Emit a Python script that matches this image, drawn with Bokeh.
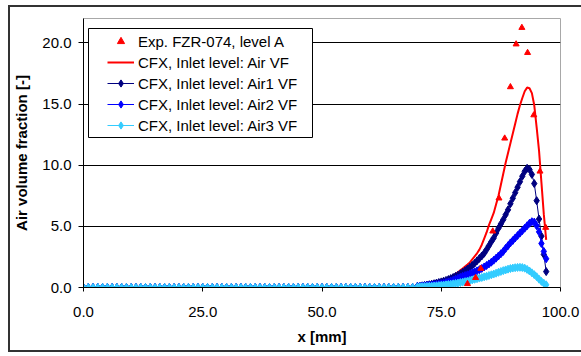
from bokeh.plotting import figure
from bokeh.models import (BoxAnnotation, ColumnDataSource, FixedTicker, InlineStyleSheet,
                          Legend, LegendItem, NumeralTickFormatter, Range1d)
from bokeh.embed import file_html
from bokeh.resources import INLINE

# Measured air volume fraction, FZR-074, level A
exp_x = [80.5, 82.2, 83.3, 85.8, 87.1, 88.3, 89.5, 90.7, 91.9, 93.1, 94.4, 95.7, 96.9]
exp_vf = [0.3, 0.8, 1.55, 4.6, 7.3, 12.2, 16.4, 19.9, 21.25, 19.2, 14.1, 9.5, 4.9]

# CFX results: flat part of the profile (x = 0..69 mm, every 1 mm)
x_flat = list(range(0, 70))
flat_vf = [0.0] * len(x_flat)

# CFX results: rising part of the profile (x = 70..97 mm, every 0.5 mm)
x_peak = [70.0, 70.5, 71.0, 71.5, 72.0, 72.5, 73.0, 73.5, 74.0, 74.5,
          75.0, 75.5, 76.0, 76.5, 77.0, 77.5, 78.0, 78.5, 79.0, 79.5,
          80.0, 80.5, 81.0, 81.5, 82.0, 82.5, 83.0, 83.5, 84.0, 84.5,
          85.0, 85.5, 86.0, 86.5, 87.0, 87.5, 88.0, 88.5, 89.0, 89.5,
          90.0, 90.5, 91.0, 91.5, 92.0, 92.5, 93.0, 93.5, 94.0, 94.5,
          95.0, 95.5, 96.0, 96.5, 97.0]

air_vf = [0.15, 0.18, 0.21, 0.25, 0.29, 0.33, 0.38, 0.43, 0.48, 0.54,
          0.60, 0.66, 0.73, 0.81, 0.90, 1.00, 1.12, 1.25, 1.40, 1.56,
          1.72, 1.88, 2.05, 2.30, 2.55, 2.80, 3.10, 3.50, 4.00, 4.50,
          5.10, 5.60, 6.10, 6.80, 7.50, 8.40, 9.30, 10.20, 11.00, 11.80,
          12.60, 13.40, 14.20, 14.90, 15.50, 16.05, 16.35, 16.30, 15.90, 14.90,
          13.10, 11.20, 8.60, 6.00, 3.90]

air1_vf = [0.10, 0.12, 0.14, 0.17, 0.20, 0.23, 0.27, 0.31, 0.36, 0.41,
           0.46, 0.52, 0.58, 0.65, 0.73, 0.82, 0.91, 1.01, 1.12, 1.24,
           1.37, 1.51, 1.65, 1.81, 1.98, 2.18, 2.38, 2.58, 2.80, 3.10,
           3.42, 3.75, 4.05, 4.45, 4.85, 5.20, 5.55, 5.95, 6.35, 6.85,
           7.30, 7.75, 8.20, 8.65, 9.10, 9.50, 9.75, 9.65, 9.25, 8.50,
           7.10, 5.60, 4.20, 2.70, 1.30]

air2_vf = [0.08, 0.10, 0.12, 0.14, 0.16, 0.18, 0.20, 0.22, 0.24, 0.27,
           0.31, 0.35, 0.40, 0.46, 0.52, 0.59, 0.67, 0.75, 0.83, 0.92,
           0.98, 1.04, 1.12, 1.20, 1.28, 1.36, 1.46, 1.56, 1.68, 1.80,
           1.93, 2.07, 2.23, 2.40, 2.58, 2.76, 2.95, 3.20, 3.42, 3.65,
           3.84, 4.05, 4.25, 4.45, 4.65, 4.85, 5.05, 5.25, 5.38, 5.35,
           5.05, 4.55, 3.60, 2.95, 2.35]

air3_vf = [0.05, 0.06, 0.07, 0.08, 0.09, 0.10, 0.11, 0.12, 0.14, 0.16,
           0.18, 0.20, 0.22, 0.25, 0.27, 0.30, 0.33, 0.36, 0.40, 0.44,
           0.48, 0.52, 0.57, 0.62, 0.67, 0.72, 0.77, 0.82, 0.87, 0.92,
           0.98, 1.04, 1.10, 1.17, 1.24, 1.31, 1.38, 1.44, 1.50, 1.55,
           1.59, 1.62, 1.64, 1.65, 1.63, 1.58, 1.48, 1.35, 1.20, 1.05,
           0.88, 0.68, 0.50, 0.35, 0.22]

x_ticks = [0, 25, 50, 75, 100]
y_ticks = [0, 5, 10, 15, 20]

FONT = "Liberation Sans"
FONT_SIZE = "15px"

x_all = x_flat + x_peak
src = ColumnDataSource(dict(
    x=x_all,
    air=flat_vf + air_vf,
    air1=flat_vf + air1_vf,
    air2=flat_vf + air2_vf,
    air3=flat_vf + air3_vf,
))
exp_src = ColumnDataSource(dict(x=exp_x, y=exp_vf))

# Outer chart frame, drawn around the whole canvas (open on the right side)
frame_css = InlineStyleSheet(css="""
:host { position: relative; }
:host::after {
  content: "";
  position: absolute;
  left: 8px; top: 5px;
  width: 573px; height: 347px;
  box-sizing: border-box;
  border: 2px solid #333333;
  border-right: none;
  pointer-events: none;
}
""")

p = figure(width=581, height=356, output_backend="svg", toolbar_location=None,
           x_range=Range1d(0, 100), y_range=Range1d(0, 22),
           min_border_left=83, min_border_right=21,
           min_border_top=18, min_border_bottom=69,
           stylesheets=[frame_css])
p.background_fill_color = "white"
p.border_fill_color = "white"
p.outline_line_color = "#a8a8a8"
p.outline_line_width = 1

# grid
p.xgrid.visible = False
p.ygrid.ticker = FixedTicker(ticks=y_ticks)
p.ygrid.grid_line_color = "#000000"
p.ygrid.grid_line_width = 1

# axes
for ax in (p.xaxis[0], p.yaxis[0]):
    ax.formatter = NumeralTickFormatter(format="0.0")
    ax.axis_line_color = "#000000"
    ax.major_tick_line_color = "#000000"
    ax.minor_tick_line_color = None
    ax.major_tick_in = 0
    ax.major_label_text_font = FONT
    ax.major_label_text_font_size = FONT_SIZE
    ax.major_label_text_color = "#000000"
    ax.axis_label_text_font = FONT
    ax.axis_label_text_font_size = FONT_SIZE
    ax.axis_label_text_font_style = "bold"
    ax.axis_label_text_color = "#000000"

p.xaxis.ticker = FixedTicker(ticks=x_ticks)
p.xaxis.major_tick_out = 4
p.xaxis.major_label_standoff = 15
p.xaxis.axis_label = "x [mm]"
p.xaxis.axis_label_standoff = 8

p.yaxis.ticker = FixedTicker(ticks=y_ticks)
p.yaxis.major_tick_out = 5
p.yaxis.major_label_standoff = 7
p.yaxis.axis_label = "Air volume fraction [-]"
p.yaxis.axis_label_standoff = 9

# Legend panel
p.add_layout(BoxAnnotation(left=88, right=312, top=28, bottom=137,
                           left_units="canvas", right_units="canvas",
                           top_units="canvas", bottom_units="canvas",
                           fill_color="white", fill_alpha=1,
                           line_color="#000000", line_alpha=1, line_width=1))

# series
r_air = p.line("x", "air", source=src, line_color="#ff0000", line_width=2)

l_air1 = p.line("x", "air1", source=src, line_color="#000080", line_width=1)
m_air1 = p.scatter("x", "air1", source=src, marker="diamond", size=8,
                   fill_color="#000080", line_color="#000080")

l_air2 = p.line("x", "air2", source=src, line_color="#0000ff", line_width=1)
m_air2 = p.scatter("x", "air2", source=src, marker="diamond", size=8,
                   fill_color="#0000ff", line_color="#0000ff")

l_air3 = p.line("x", "air3", source=src, line_color="#33ccff", line_width=1)
m_air3 = p.scatter("x", "air3", source=src, marker="diamond", size=8,
                   fill_color="#33ccff", line_color="#33ccff")

r_exp = p.scatter("x", "y", source=exp_src, marker="triangle", size=6,
                  fill_color="#ff0000", line_color="#ff0000")

legend = Legend(items=[
    LegendItem(label="Exp. FZR-074, level A", renderers=[r_exp]),
    LegendItem(label="CFX, Inlet level: Air VF", renderers=[r_air]),
    LegendItem(label="CFX, Inlet level: Air1 VF", renderers=[l_air1, m_air1]),
    LegendItem(label="CFX, Inlet level: Air2 VF", renderers=[l_air2, m_air2]),
    LegendItem(label="CFX, Inlet level: Air3 VF", renderers=[l_air3, m_air3]),
], location=(20, 149))
legend.border_line_alpha = 0
legend.background_fill_alpha = 0
legend.padding = 4
legend.margin = 0
legend.spacing = 3
legend.label_height = 18
legend.glyph_height = 18
legend.glyph_width = 27
legend.label_standoff = 4
legend.label_text_font = FONT
legend.label_text_font_size = FONT_SIZE
legend.label_text_color = "#000000"
p.add_layout(legend)

open("out.html", "w").write(file_html(p, INLINE))
